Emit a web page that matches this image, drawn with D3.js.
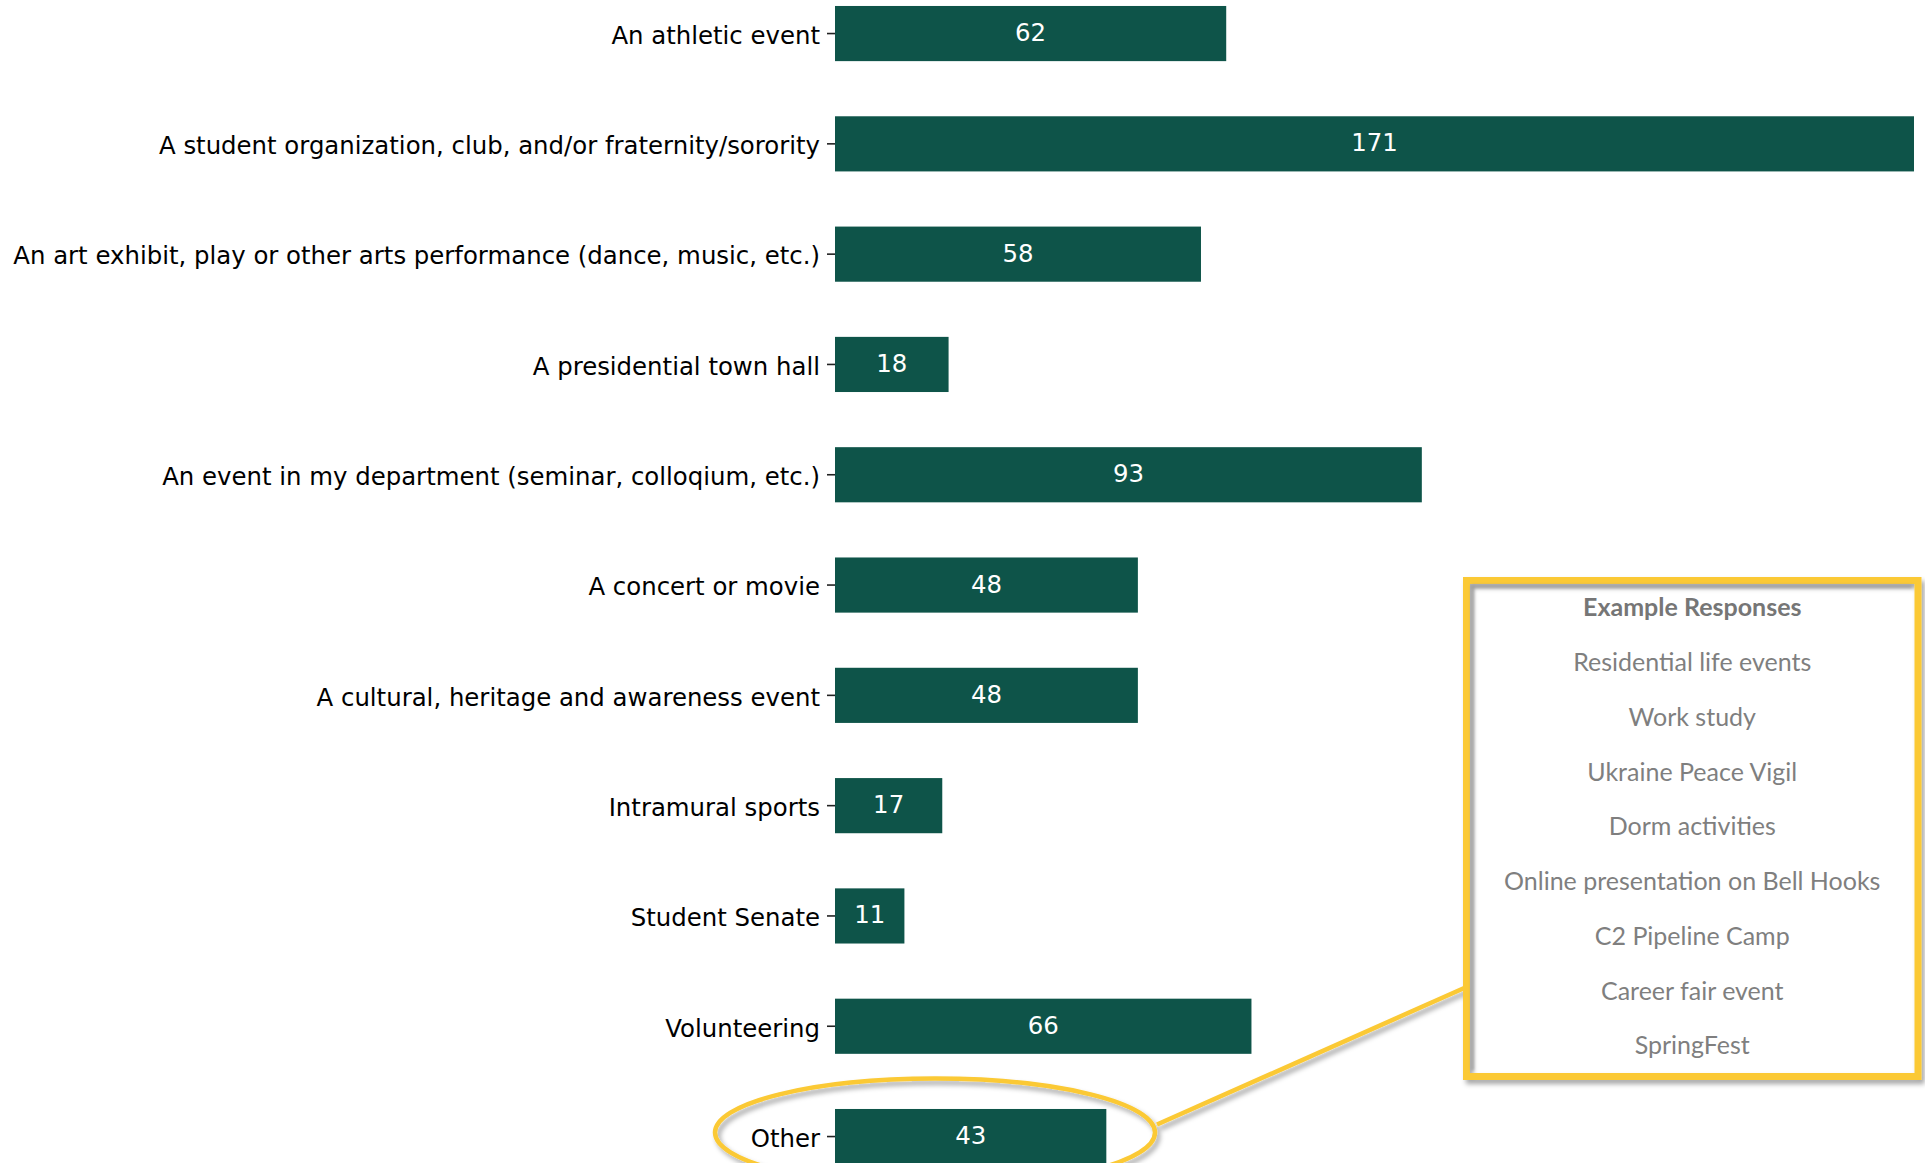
<!DOCTYPE html>
<html>
<head>
<meta charset="utf-8">
<script src="https://cdn.jsdelivr.net/npm/d3@7"></script>
<style>
  html, body { margin: 0; padding: 0; background: #ffffff; overflow: hidden; }
  svg { display: block; }
</style>
</head>
<body>
<svg id="chart" width="1925" height="1163"></svg>
<script>
const categories = [
  "An athletic event",
  "A student organization, club, and/or fraternity/sorority",
  "An art exhibit, play or other arts performance (dance, music, etc.)",
  "A presidential town hall",
  "An event in my department (seminar, colloqium, etc.)",
  "A concert or movie",
  "A cultural, heritage and awareness event",
  "Intramural sports",
  "Student Senate",
  "Volunteering",
  "Other"
];
const values = [62, 171, 58, 18, 93, 48, 48, 17, 11, 66, 43];
const calloutTitle = "Example Responses";
const exampleResponses = [
  "Residential life events",
  "Work study",
  "Ukraine Peace Vigil",
  "Dorm activities",
  "Online presentation on Bell Hooks",
  "C2 Pipeline Camp",
  "Career fair event",
  "SpringFest"
];

const svg = d3.select("#chart");
const barColor = "#0e5449";
const yellow = "#fbc934";

const defs = svg.append("defs");
const sh = defs.append("filter").attr("id", "shadow")
  .attr("x", "-10%").attr("y", "-10%").attr("width", "130%").attr("height", "130%");
sh.append("feDropShadow").attr("dx", 3).attr("dy", 4).attr("stdDeviation", 2.5)
  .attr("flood-color", "#000").attr("flood-opacity", 0.35);
const blur = defs.append("filter").attr("id", "blur");
blur.append("feGaussianBlur").attr("stdDeviation", 1.6);

const x = d3.scaleLinear().domain([0, 171]).range([835, 1914]);
const y = d3.scaleBand().domain(categories).range([-21.6, 1191.7])
  .paddingInner(0.5).paddingOuter(0.25);

// bars
svg.append("g").selectAll("rect").data(categories).join("rect")
  .attr("x", x(0))
  .attr("y", d => y(d))
  .attr("width", (d, i) => x(values[i]) - x(0))
  .attr("height", y.bandwidth())
  .attr("fill", barColor);

// y axis
const yAxis = d3.axisLeft(y).tickSize(8).tickPadding(7);
const gy = svg.append("g").attr("transform", `translate(${x(0)},0)`).call(yAxis);
gy.select(".domain").remove();
gy.selectAll(".tick line").attr("stroke", "#222").attr("stroke-width", 1.6);
gy.selectAll(".tick text")
  .attr("fill", "#000")
  .attr("dy", "0.42em")
  .style("font-family", "'DejaVu Sans', sans-serif")
  .style("font-size", "24.4px");

// value labels
svg.append("g").selectAll("text").data(categories).join("text")
  .attr("x", (d, i) => (x(0) + x(values[i])) / 2)
  .attr("y", d => y(d) + y.bandwidth() / 2 - 1)
  .attr("text-anchor", "middle")
  .attr("dominant-baseline", "central")
  .attr("fill", "#ffffff")
  .style("font-family", "'DejaVu Sans', sans-serif")
  .style("font-size", "24.4px")
  .text((d, i) => values[i]);

// callout: ellipse + connector + box
const otherCy = y("Other") + y.bandwidth() / 2;
const ellipseCx = 935, ellipseRx = 220, ellipseRy = 54;
const box = { x: 1466.5, y: 580.5, w: 451.5, h: 496 };

const callout = svg.append("g").attr("filter", "url(#shadow)");
callout.append("ellipse")
  .attr("cx", ellipseCx).attr("cy", otherCy - 4)
  .attr("rx", ellipseRx).attr("ry", ellipseRy)
  .attr("fill", "none").attr("stroke", yellow).attr("stroke-width", 4.5);
callout.append("line")
  .attr("x1", ellipseCx + ellipseRx + 2).attr("y1", otherCy - 12)
  .attr("x2", box.x).attr("y2", 987)
  .attr("stroke", yellow).attr("stroke-width", 4.5);

// box inner shadow
svg.append("path")
  .attr("d", `M${box.x + 6},${box.y + box.h - 6} V${box.y + 6} H${box.x + box.w - 6}`)
  .attr("fill", "none").attr("stroke", "#9a9a9a").attr("stroke-width", 2.5)
  .attr("filter", "url(#blur)");
callout.append("rect")
  .attr("x", box.x).attr("y", box.y).attr("width", box.w).attr("height", box.h)
  .attr("fill", "none").attr("stroke", yellow).attr("stroke-width", 7);

const cx = box.x + box.w / 2;
const tg = svg.append("g")
  .style("font-family", "Lato, 'Open Sans', sans-serif")
  .attr("text-anchor", "middle");
tg.append("text")
  .attr("x", cx).attr("y", 606)
  .attr("dominant-baseline", "central")
  .attr("fill", "#767676")
  .style("font-size", "25px").style("font-weight", "bold")
  .text(calloutTitle);
tg.selectAll("text.resp").data(exampleResponses).join("text")
  .attr("class", "resp")
  .attr("x", cx)
  .attr("y", (d, i) => 661 + i * 54.75)
  .attr("dominant-baseline", "central")
  .attr("fill", "#7f7f7f")
  .style("font-size", "25px")
  .text(d => d);
</script>
</body>
</html>
